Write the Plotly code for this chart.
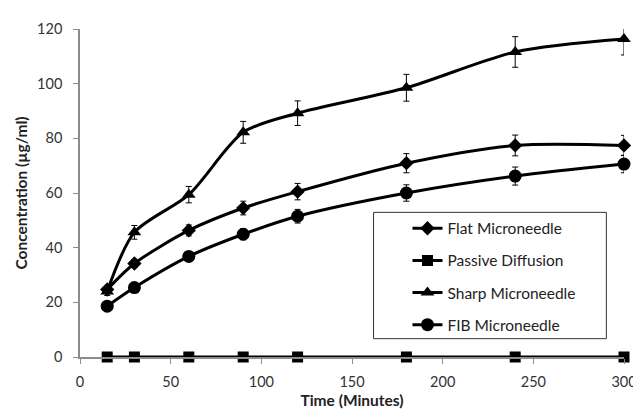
import plotly.graph_objects as go

time_min = [15, 30, 60, 90, 120, 180, 240, 300]

flat = [24.7, 34.2, 46.3, 54.5, 60.5, 70.9, 77.4, 77.4]
flat_err = [1.2, 1.5, 2.0, 2.5, 3.0, 3.5, 3.8, 3.7]

passive = [0, 0, 0, 0, 0, 0, 0, 0]
passive_err = [0, 0, 0, 0, 0, 0, 0, 0]

sharp = [24.0, 45.6, 59.4, 82.2, 89.2, 98.5, 111.6, 116.3]
sharp_err = [1.5, 2.5, 3.0, 4.0, 4.5, 4.9, 5.6, 5.8]

fib = [18.6, 25.4, 36.8, 44.9, 51.5, 60.0, 66.2, 70.6]
fib_err = [1.0, 1.2, 1.5, 2.0, 2.5, 3.0, 3.3, 3.2]

series = [
    ("Flat Microneedle", flat, flat_err, "diamond", 11),
    ("Passive Diffusion", passive, passive_err, "square", 11),
    ("Sharp Microneedle", sharp, sharp_err, "triangle-up", 12),
    ("FIB Microneedle", fib, fib_err, "circle", 13),
]

FONT = "Lato, Open Sans, sans-serif"

fig = go.Figure()
for i, (name, vals, err, sym, sz) in enumerate(series):
    fig.add_trace(go.Scatter(
        x=time_min, y=vals, name=name, mode="lines+markers",
        line=dict(color="black", width=3, shape="spline", smoothing=0.8),
        marker=dict(symbol=sym, size=sz, color="black"),
        error_y=dict(type="data", array=err, visible=any(e > 0 for e in err),
                     color="black", thickness=1, width=3),
        cliponaxis=False, legendgroup=str(i),
    ))

axis_font = dict(family=FONT, size=14.5, color="#333333")
fig.update_layout(
    width=641, height=411,
    margin=dict(l=65, r=20, t=12, b=59),
    paper_bgcolor="white", plot_bgcolor="white",
    showlegend=True,
    legend=dict(x=0.602, y=0.443, xanchor="left", yanchor="top",
                borderwidth=0, bgcolor="rgba(0,0,0,0)",
                font=dict(family=FONT, size=15.5, color="#222222"),
                tracegroupgap=9, itemwidth=30, traceorder="grouped"),
    shapes=[dict(type="rect", xref="paper", yref="paper",
                 x0=0.5396, x1=0.9676, y0=0.0559, y1=0.441,
                 line=dict(color="#333333", width=1), fillcolor="white", layer="below")],
    xaxis=dict(range=[0, 300], tickvals=[0, 50, 100, 150, 200, 250, 300],
               showgrid=False, zeroline=False, showline=True, linecolor="#8c8c8c", linewidth=1.5,
               ticks="outside", ticklen=5, tickcolor="#8c8c8c", tickfont=axis_font,
               ticklabelstandoff=6, ticklabeloverflow="allow",
               title=dict(text="<b>Time (Minutes)</b>", standoff=6,
                          font=dict(family=FONT, size=15.5, color="#222222"))),
    yaxis=dict(range=[0, 120], tickvals=[0, 20, 40, 60, 80, 100, 120],
               showgrid=False, zeroline=False, showline=True, linecolor="#8c8c8c", linewidth=1.5,
               ticks="outside", ticklen=5, tickcolor="#8c8c8c", tickfont=axis_font,
               ticklabelstandoff=8,
               title=dict(text="<b>Concentration (µg/ml)</b>", standoff=6,
                          font=dict(family=FONT, size=15.5, color="#222222"))),
)

fig.write_html("out.html")
